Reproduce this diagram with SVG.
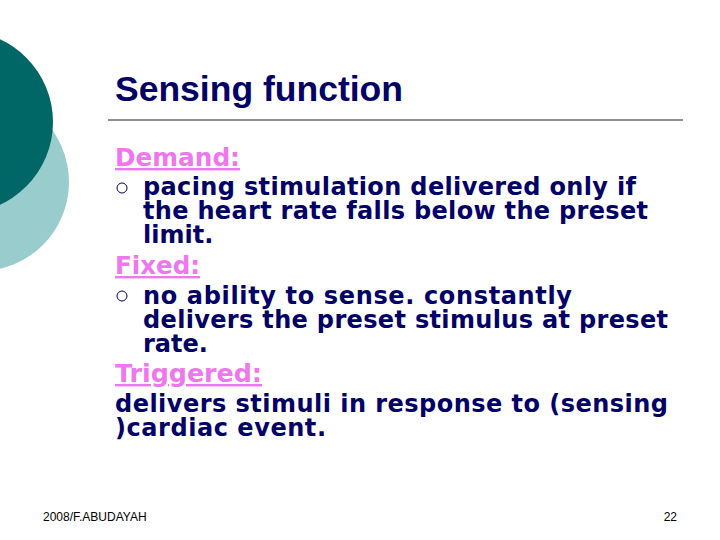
<svg xmlns="http://www.w3.org/2000/svg" width="720" height="540" viewBox="0 0 720 540">
<style>
.b{font-family:"DejaVu Sans",Verdana,sans-serif;font-weight:bold;font-size:24px;fill:#000066}
.h{font-family:"DejaVu Sans",Verdana,sans-serif;font-weight:bold;font-size:24px;fill:#ee77ee;text-decoration:underline}
.f{font-family:"Liberation Sans",Arial,sans-serif;font-size:12px;fill:#000}
</style>
<rect width="720" height="540" fill="#fff"/>
<circle cx="-20" cy="182" r="89" fill="#99cccc"/>
<circle cx="-38" cy="122" r="91" fill="#006666"/>
<text x="115" y="101" font-family="Liberation Sans,Arial,sans-serif" font-weight="bold" font-size="35.5" fill="#000066">Sensing function</text>
<line x1="108" y1="120" x2="683" y2="120" stroke="#222" stroke-width="1"/>
<text class="h" x="115" y="166" textLength="125" lengthAdjust="spacingAndGlyphs">Demand:</text>
<circle cx="122" cy="188" r="5" fill="none" stroke="#000066" stroke-width="1"/>
<text class="b" x="143" y="195" textLength="493">pacing stimulation delivered only if</text>
<text class="b" x="143" y="219" textLength="505">the heart rate falls below the preset</text>
<text class="b" x="143" y="243">limit.</text>
<text class="h" x="115" y="274" textLength="85" lengthAdjust="spacingAndGlyphs">Fixed:</text>
<circle cx="122" cy="296" r="5" fill="none" stroke="#000066" stroke-width="1"/>
<text class="b" x="143" y="304" textLength="429"> no ability to sense. constantly</text>
<text class="b" x="143" y="328" textLength="525">delivers the preset stimulus at preset</text>
<text class="b" x="143" y="352">rate.</text>
<text class="h" x="115" y="382" textLength="147" lengthAdjust="spacingAndGlyphs">Triggered:</text>
<text class="b" x="115" y="412" textLength="553">delivers stimuli in response to (sensing</text>
<text class="b" x="115" y="436" textLength="211">)cardiac event.</text>
<text class="f" x="43" y="521">2008/F.ABUDAYAH</text>
<text class="f" x="677" y="521" text-anchor="end">22</text>
</svg>
